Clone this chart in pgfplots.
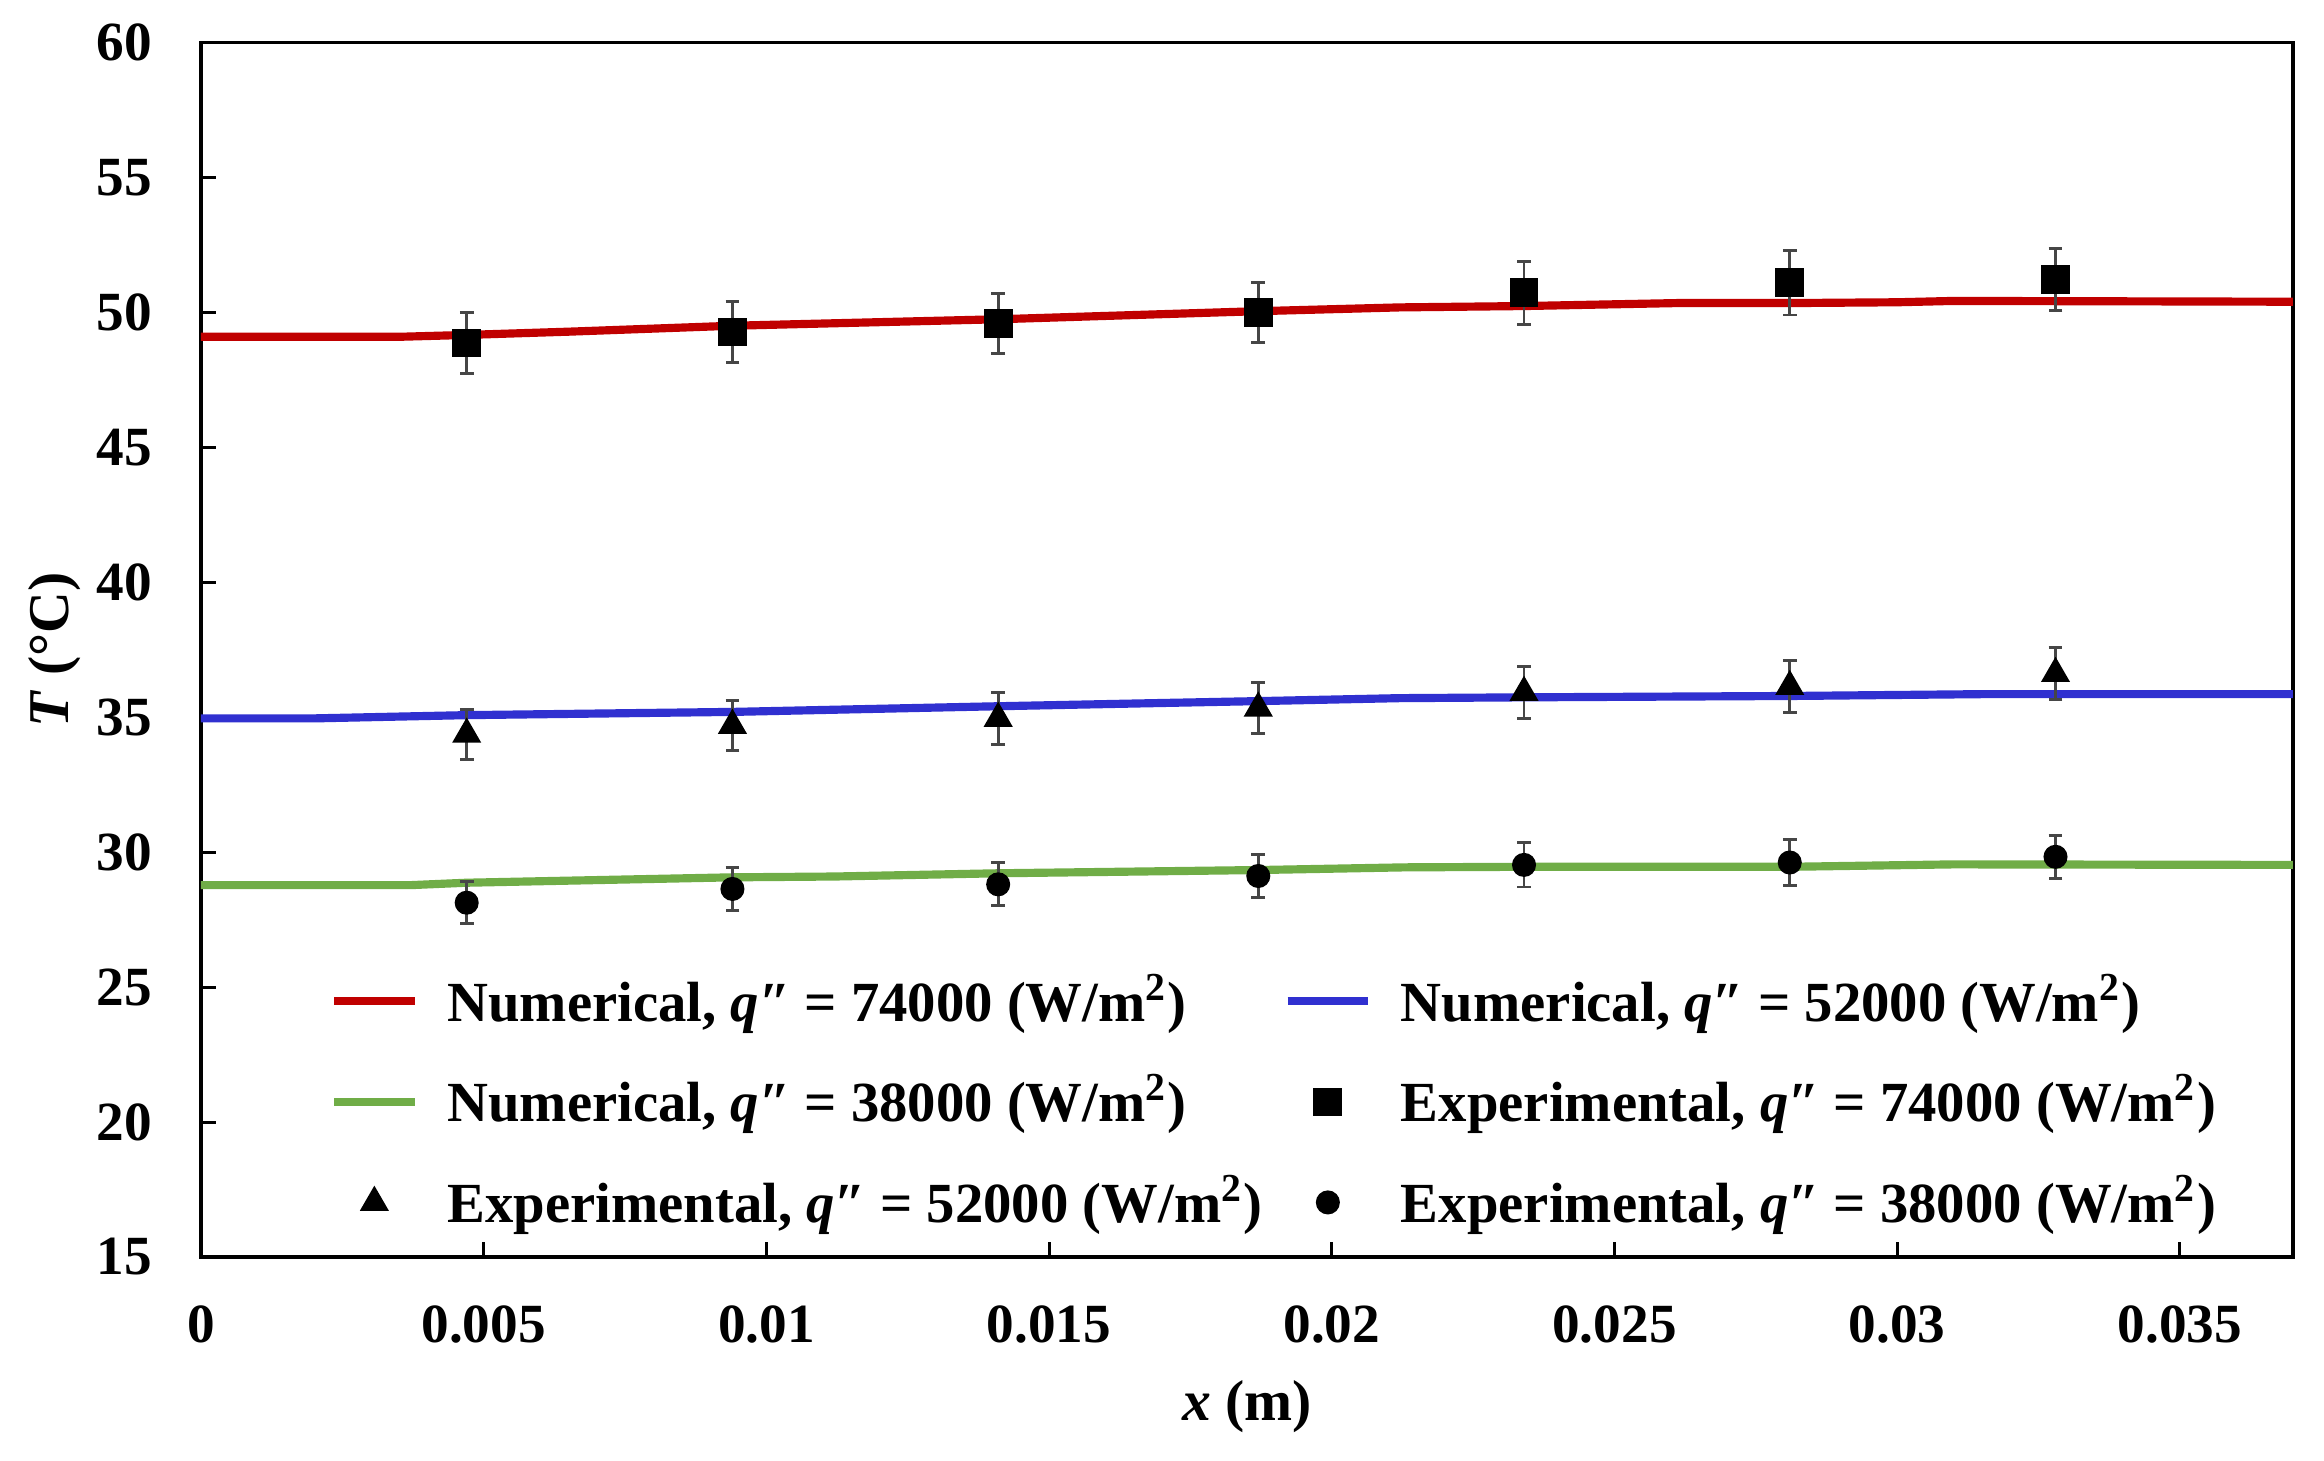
\documentclass[border=0pt]{standalone}
\usepackage{fontspec}
\setmainfont{Liberation Serif}
\usepackage{pgfplots}
\pgfplotsset{compat=1.18}
\definecolor{cred}{RGB}{192,0,0}
\definecolor{cblue}{RGB}{48,48,208}
\definecolor{cgreen}{RGB}{112,173,71}
\definecolor{ebar}{RGB}{70,70,70}
\pgfplotsset{
  lineleg/.style={legend image code/.code={\path[draw=none,fill=none] (0cm,-0.1cm) rectangle (0.59cm,0.1cm);\draw[##1,line width=1.7pt] (0cm,0cm) -- (0.59cm,0cm);}},
  markleg/.style={legend image code/.code={\path[draw=none,fill=none] (0cm,-0.1cm) rectangle (0.59cm,0.1cm);\draw[##1] plot coordinates {(0.295cm,0cm)};}},
  expbars/.style={error bars/.cd, y dir=both, y explicit,
    error bar style={ebar, line width=0.6pt},
    error mark options={rotate=90, ebar, mark size=0.05cm, line width=0.6pt}},
}
\begin{document}
\begin{tikzpicture}
\path[use as bounding box] (-1.470cm,-1.492cm) rectangle (15.530cm,9.195cm);
\begin{axis}[
  at={(0,0)}, anchor=south west,
  scale only axis, width=15.303cm, height=8.883cm,
  xmin=0, xmax=0.037, ymin=15, ymax=60,
  xtick={0,0.005,0.01,0.015,0.02,0.025,0.03,0.035},
  ytick={15,20,25,30,35,40,45,50,55,60},
  scaled x ticks=false,
  xticklabel style={/pgf/number format/fixed, /pgf/number format/precision=3, anchor=north, inner sep=0pt, yshift=-0.35cm},
  yticklabel style={anchor=east, inner sep=0pt, xshift=-0.35cm},
  ticklabel style={font=\fontsize{11.5}{13}\selectfont\bfseries},
  /pgf/number format/assume math mode=true,
  tick align=inside, xtick pos=bottom, ytick pos=left,
  major tick length=0.11cm,
  tick style={black, line width=0.6pt},
  axis line style={black, line width=0.7pt},
  xlabel={\textit{x} (m)}, ylabel={\textit{T} (°C)},
  label style={font=\fontsize{12}{14}\selectfont\bfseries},
  xlabel style={at={(axis description cs:0.5,-0.1235)}, anchor=center},
  ylabel style={at={(axis description cs:-0.0699,0.5)}, anchor=center},
  legend columns=2,
  legend cell align=left,
  legend style={at={(axis description cs:0.0612,0.2337)}, anchor=north west,
    draw=none, fill=none, inner sep=0pt,
    font=\fontsize{11.8}{14}\selectfont\bfseries,
    row sep=9.6pt, nodes={inner sep=0pt},
    /tikz/every odd column/.append style={column sep=0.21cm},
    /tikz/every even column/.append style={column sep=0.154cm}},
]
\addplot[cred, line width=1.7pt, no marks, lineleg] coordinates {
(0,49.10) (0.0035,49.10) (0.0047,49.17) (0.0065,49.29) (0.0094,49.51) (0.0141,49.75) (0.0187,50.05) (0.0212,50.19) (0.0234,50.24) (0.0261,50.35) (0.0281,50.35) (0.0300,50.38) (0.0310,50.43) (0.0370,50.40)};
\addlegendentry{Numerical, \textit{q″} = 74000 (W/m\textsuperscript{2})}
\addplot[cblue, line width=1.7pt, no marks, lineleg] coordinates {
(0,34.96) (0.0020,34.96) (0.0047,35.08) (0.0094,35.20) (0.0141,35.41) (0.0165,35.51) (0.0187,35.60) (0.0212,35.71) (0.0234,35.74) (0.0281,35.79) (0.0316,35.86) (0.0370,35.86)};
\addlegendentry{Numerical, \textit{q″} = 52000 (W/m\textsuperscript{2})}
\addplot[cgreen, line width=1.7pt, no marks, lineleg] coordinates {
(0,28.78) (0.0037,28.78) (0.0047,28.87) (0.0094,29.07) (0.0112,29.10) (0.0141,29.22) (0.0187,29.34) (0.0213,29.44) (0.0234,29.46) (0.0281,29.46) (0.0310,29.55) (0.0370,29.53)};
\addlegendentry{Numerical, \textit{q″} = 38000 (W/m\textsuperscript{2})}
\addplot[black, only marks, mark=square*, mark size=2.8pt, markleg, expbars] table[x=x, y=y, y error=e] {
x y e
0.0047 48.87 1.12
0.0094 49.28 1.12
0.0141 49.59 1.12
0.0187 50.00 1.11
0.0234 50.73 1.16
0.0281 51.10 1.19
0.0328 51.22 1.16
};
\addlegendentry{Experimental, \textit{q″} = 74000 (W/m\textsuperscript{2})}
\addplot[black, only marks, mark=triangle*, mark size=3.1pt, markleg, expbars] table[x=x, y=y, y error=e] {
x y e
0.0047 34.37 0.93
0.0094 34.70 0.93
0.0141 34.96 0.97
0.0187 35.34 0.94
0.0234 35.92 0.96
0.0281 36.14 0.96
0.0328 36.62 0.96
};
\addlegendentry{Experimental, \textit{q″} = 52000 (W/m\textsuperscript{2})}
\addplot[black, only marks, mark=*, mark size=2.3pt, markleg, expbars] table[x=x, y=y, y error=e] {
x y e
0.0047 28.13 0.77
0.0094 28.64 0.79
0.0141 28.81 0.80
0.0187 29.12 0.80
0.0234 29.53 0.82
0.0281 29.62 0.85
0.0328 29.83 0.80
};
\addlegendentry{Experimental, \textit{q″} = 38000 (W/m\textsuperscript{2})}
\end{axis}
\end{tikzpicture}
\end{document}
